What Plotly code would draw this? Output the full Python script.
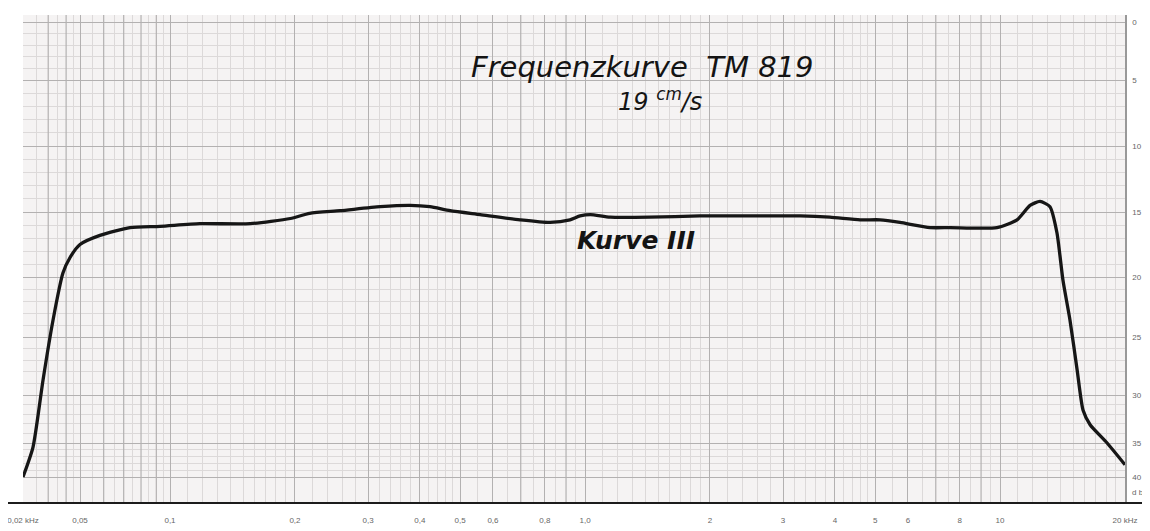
import numpy as np
import plotly.graph_objects as go

# ---------------- data ----------------
FREQ_KHZ = [0.02, 0.0235, 0.0276, 0.0324, 0.038, 0.0426, 0.05, 0.0583, 0.0735, 0.0926,
            0.118, 0.156, 0.195, 0.217, 0.257, 0.321, 0.379, 0.423, 0.473, 0.559,
            0.697, 0.824, 0.92, 0.973, 1.03, 1.15, 1.43, 1.89, 2.5, 3.3,
            3.89, 4.6, 5.14, 5.74, 6.78, 7.58, 9.83, 10.99, 11.81, 12.48,
            13.19, 13.71, 14.18, 14.74, 15.33, 15.85, 16.48, 18.11, 20.0]
LEVEL_DB = [40.0, 35.6, 28.7, 23.6, 19.7, 18.5, 17.5, 16.8, 16.2, 16.1,
            15.9, 15.9, 15.5, 15.1, 14.9, 14.6, 14.5, 14.6, 14.9, 15.2,
            15.6, 15.8, 15.6, 15.3, 15.2, 15.4, 15.4, 15.3, 15.3, 15.3,
            15.4, 15.6, 15.6, 15.8, 16.2, 16.2, 16.2, 15.6, 14.5, 14.2,
            14.6, 16.6, 20.3, 23.6, 27.8, 31.6, 33.1, 35.0, 38.2]

FREQ_TICKS = [0.02, 0.05, 0.1, 0.2, 0.3, 0.4, 0.5, 0.6, 0.8, 1.0, 2, 3, 4, 5, 6, 8, 10, 20]
FREQ_TICK_TEXT = ["0,02 kHz", "0,05", "0,1", "0,2", "0,3", "0,4", "0,5", "0,6", "0,8", "1,0",
                  "2", "3", "4", "5", "6", "8", "10", "20 kHz"]
DB_TICKS = [0, 5, 10, 15, 20, 25, 30, 35, 40]
DB_TICK_TEXT = ["0", "5", "10", "15", "20", "25", "30", "35", "40"]

# ---------------- paper scales of the recorder chart ----------------
PLOT_W = 1102.0
PLOT_H = 488.0
# frequency: log scale above 0.1 kHz, compressed below (as printed on the paper)
X_KNOT_LOGF = [np.log10(0.02), np.log10(0.05), -1.0, np.log10(20.0)]
X_KNOT_POS = [0.0, 57.0, 147.0, PLOT_W]
# level: non-uniform dB scale of the paper (position measured downward)
Y_KNOT_DB = [0, 5, 10, 15, 20, 25, 30, 35, 40]
Y_KNOT_POS = [7, 65, 131, 197, 262, 322, 380, 428, 462]


def fx(f):
    return np.interp(np.log10(np.asarray(f, dtype=float)), X_KNOT_LOGF, X_KNOT_POS)


def fy(db):
    return np.interp(np.asarray(db, dtype=float), Y_KNOT_DB, Y_KNOT_POS)


# grid frequencies
major_f = []
minor_f = []
for dec in [0.01, 0.1, 1.0, 10.0]:
    for m in range(1, 10):
        f = m * dec
        if 0.02 <= f <= 20:
            major_f.append(f)
        if dec == 0.01:
            continue
        if m == 1:
            subs = [1.1, 1.2, 1.3, 1.4, 1.5, 1.6, 1.7, 1.8, 1.9]
        elif m < 5:
            subs = [m + 0.2, m + 0.4, m + 0.6, m + 0.8]
        else:
            subs = [m + 0.5]
        for s in subs:
            if s * dec <= 20:
                minor_f.append(s * dec)
minor_f += [0.025, 0.035, 0.045, 0.055, 0.065, 0.075, 0.085, 0.095]
unlabelled_major_f = [f for f in major_f if not any(abs(f - t) < 1e-9 for t in FREQ_TICKS)]

minor_db = [d for d in range(0, 41) if d % 5 != 0] + [40.5, 41, 41.5]

MAJOR_GRID = "#b3b1b1"
MINOR_GRID = "#dcd9d9"

fig = go.Figure()

# unlabelled major vertical grid lines (0.03, 0.04, 0.7, 0.9, 7, 9 ...)
gx, gy = [], []
for f in unlabelled_major_f:
    xv = float(fx(f))
    gx += [xv, xv, None]
    gy += [0, PLOT_H, None]
fig.add_trace(go.Scatter(x=gx, y=gy, mode="lines", line=dict(color=MAJOR_GRID, width=1.2),
                         hoverinfo="skip", showlegend=False))

fig.add_trace(go.Scatter(
    x=fx(FREQ_KHZ), y=fy(LEVEL_DB), mode="lines",
    line=dict(color="#161616", width=3.3, shape="spline", smoothing=0.6),
    hoverinfo="skip", showlegend=False,
))

# page body has an 8 px margin: figure is sized/offset to compensate
fig.update_layout(
    width=1142, height=523,
    margin=dict(l=15, r=25, t=7, b=28),
    paper_bgcolor="white",
    plot_bgcolor="#f5f3f3",
    showlegend=False,
    xaxis=dict(
        range=[0, PLOT_W], tickmode="array", tickvals=list(fx(FREQ_TICKS)), ticktext=FREQ_TICK_TEXT,
        showgrid=True, gridcolor=MAJOR_GRID, gridwidth=1.2, automargin=False,
        ticklabeloverflow="allow",
        ticks="outside", ticklen=9, tickcolor="rgba(0,0,0,0)",
        tickfont=dict(family="Liberation Sans", size=8, color="#666"),
        zeroline=False, showline=False, fixedrange=True,
        minor=dict(tickmode="array", tickvals=list(fx(minor_f)), showgrid=True,
                   gridcolor=MINOR_GRID, gridwidth=1, ticks=""),
    ),
    yaxis=dict(
        range=[PLOT_H, 0], side="right", tickmode="array",
        tickvals=list(fy(DB_TICKS)), ticktext=DB_TICK_TEXT,
        showgrid=True, gridcolor=MAJOR_GRID, gridwidth=1.2, automargin=False,
        ticklabeloverflow="allow",
        ticks="outside", ticklen=4, tickcolor="rgba(0,0,0,0)",
        tickfont=dict(family="Liberation Sans", size=8, color="#666"),
        zeroline=False, showline=True, linecolor="#999", linewidth=1.5,
        fixedrange=True,
        minor=dict(tickmode="array", tickvals=list(fy(minor_db)), showgrid=True,
                   gridcolor=MINOR_GRID, gridwidth=1, ticks=""),
    ),
)

# baseline (thick line under the grid)
fig.add_shape(type="line", xref="paper", yref="paper", x0=-0.016, x1=1.02, y0=0, y1=0,
              line=dict(color="#1c1c1c", width=2.2))

fig.add_annotation(xref="paper", yref="paper", x=1.0, y=0.022, xanchor="left", yanchor="middle",
                   xshift=5, text="d b", showarrow=False,
                   font=dict(family="Liberation Sans", size=8, color="#666"))

fig.add_annotation(xref="paper", yref="paper", x=0.562, y=0.893, xanchor="center", yanchor="middle",
                   text="Frequenzkurve  TM 819", showarrow=False,
                   font=dict(family="DejaVu Sans", size=29, color="#141414", style="italic"))
fig.add_annotation(xref="paper", yref="paper", x=0.578, y=0.826, xanchor="center", yanchor="middle",
                   text="19 <sup>cm</sup>/s", showarrow=False,
                   font=dict(family="DejaVu Sans", size=24, color="#141414", style="italic"))
fig.add_annotation(xref="paper", yref="paper", x=0.556, y=0.537, xanchor="center", yanchor="middle",
                   text="<b>Kurve III</b>", showarrow=False,
                   font=dict(family="DejaVu Sans", size=25, color="#141414", style="italic"))

fig.write_html("out.html")
